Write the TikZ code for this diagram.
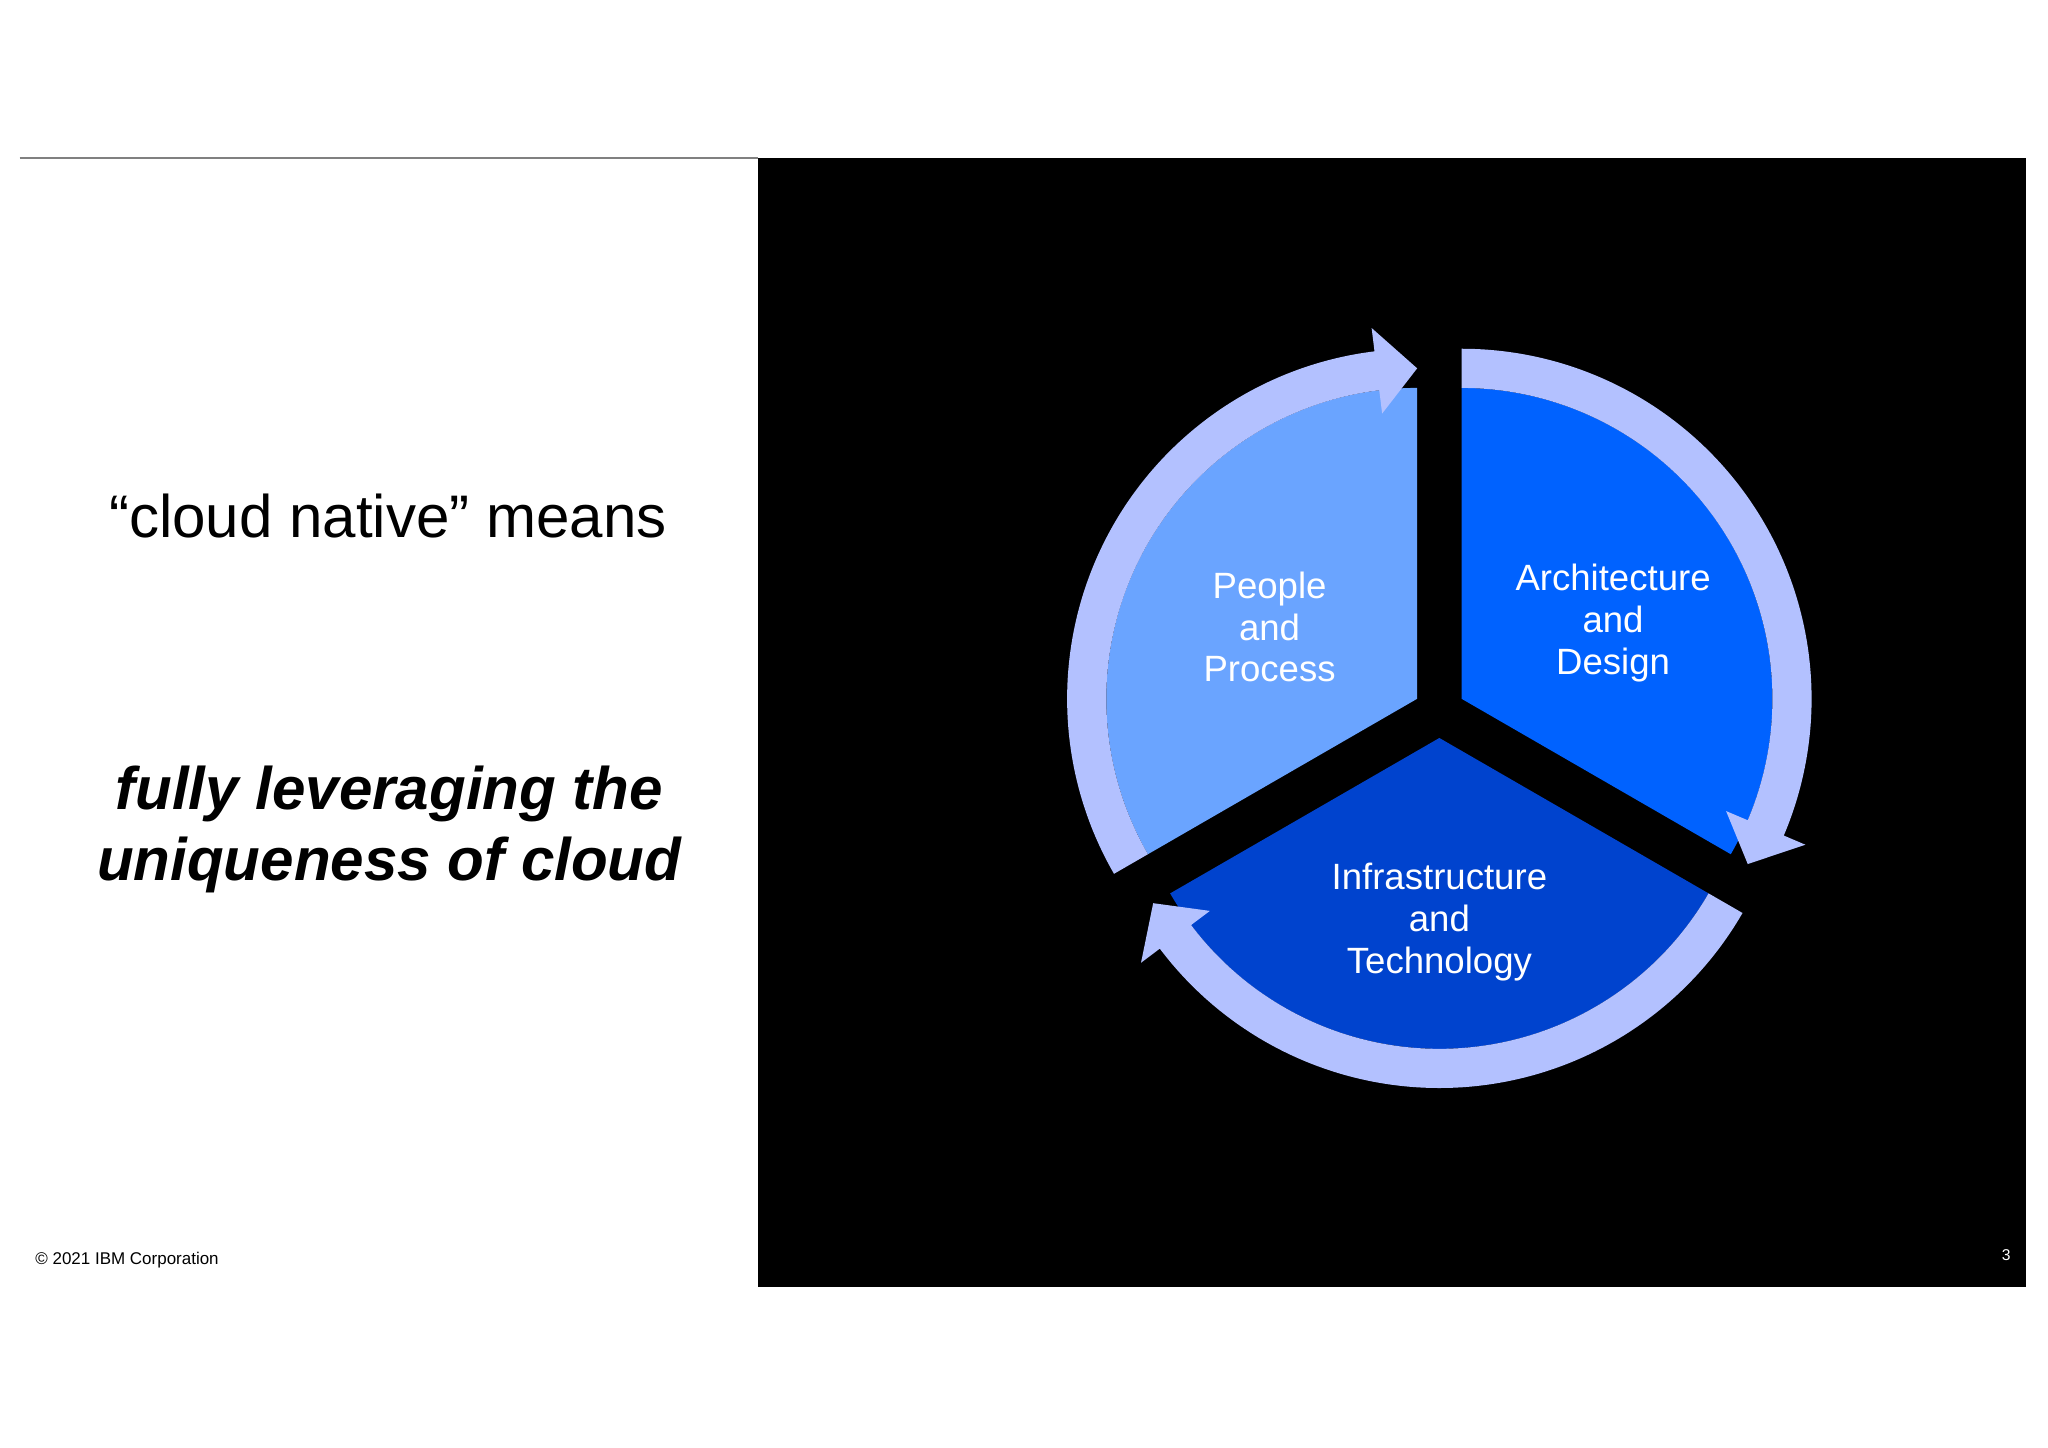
\documentclass[tikz,border=0pt]{standalone}
\usepackage{fontspec}
\setmainfont{Liberation Sans}
\usetikzlibrary{calc}
\definecolor{ring}{HTML}{B3C1FF}
\definecolor{sA}{HTML}{6AA4FF}
\definecolor{sB}{HTML}{0062FF}
\definecolor{sC}{HTML}{0043CE}
\newcommand{\mysector}[4]{% center, a0, a1, color
  \fill[#4] (#1) -- ([shift={(#1)}]#2:119pt) arc[start angle=#2,end angle=#3,radius=119pt] -- cycle;}
\newcommand{\myring}[3]{% center, a0 (start), a1 (tip), clockwise
  \pgfmathsetmacro{\hb}{#3+7}
  \fill[ring] ([shift={(#1)}]#2:134pt) arc[start angle=#2,end angle=\hb,radius=134pt]
    -- ([shift={(#1)}]\hb:143pt) -- ([shift={(#1)}]#3:126.5pt) -- ([shift={(#1)}]\hb:110pt)
    -- ([shift={(#1)}]\hb:119pt) arc[start angle=\hb,end angle=#2,radius=119pt] -- cycle;}
\tikzset{lbl/.style={text=white,align=center,font=\fontsize{14}{16}\selectfont}}
\begin{document}
\begin{tikzpicture}[x=0.5pt,y=0.5pt]
\useasboundingbox (0,0) rectangle (1568,-1108);
\fill[white] (0,0) rectangle (1568,-1108);
\draw[gray,line width=0.6pt] (15,-121) -- (580,-121);
\fill[black] (580,-121) rectangle (1551,-985);
\coordinate (cA) at (1085,-535);
\coordinate (cB) at (1119,-535);
\coordinate (cC) at (1102,-565);
\mysector{cA}{90}{210}{sA}
\mysector{cB}{-30}{90}{sB}
\mysector{cC}{210}{330}{sC}
\myring{cA}{210}{90}
\myring{cB}{90}{-30}
\myring{cC}{-30}{-150}
\node[lbl] (pp) at (972,-480) {People\\and\\Process};
\node[lbl] (ad) at (1235,-477) {Architecture\\and\\Design};
\node[lbl] (it) at (1102,-706) {Infrastructure\\and\\Technology};
\node[font=\fontsize{23}{27}\selectfont] (cn) at (297,-395) {“cloud native” means};
\node[font=\fontsize{23}{27}\selectfont\bfseries\itshape,align=center] (fl) at (298,-635) {fully leveraging the\\uniqueness of cloud};
\node[font=\fontsize{6.5}{8}\selectfont,anchor=west] (cp) at (20,-965) {© 2021 IBM Corporation};
\node[font=\fontsize{6}{7}\selectfont,text=white] (pg) at (1536,-961) {3};
\end{tikzpicture}
\end{document}
